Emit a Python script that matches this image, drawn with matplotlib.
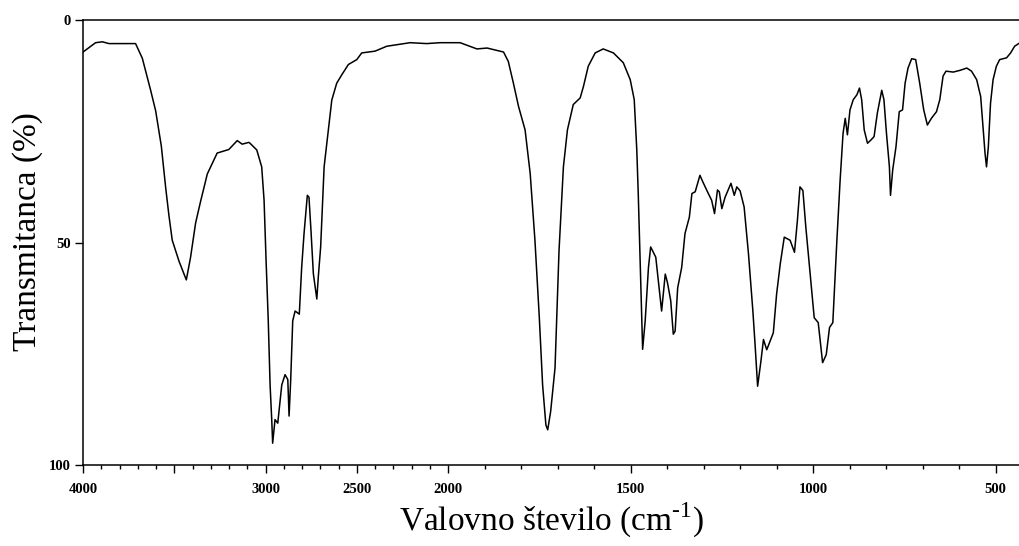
import numpy as np
import matplotlib.pyplot as plt
from matplotlib.ticker import FixedLocator, FixedFormatter

# IR spectrum: wavenumber (cm-1) and transmittance (%)
wavenumber = [
    4000, 3931, 3894, 3858, 3712, 3675, 3630, 3602, 3571, 3547, 3529, 3511,
    3474, 3434, 3411, 3383, 3356, 3319, 3265, 3201, 3155, 3128, 3091, 3085,
    3048, 3021, 3008, 2997, 2985, 2975, 2966, 2961, 2948, 2933, 2911, 2893,
    2878, 2871, 2862, 2851, 2838, 2815, 2802, 2789, 2771, 2762, 2751, 2738,
    2719, 2711, 2698, 2679, 2656, 2637, 2610, 2582, 2546, 2500, 2473, 2400,
    2336, 2208, 2117, 2044, 1967, 1921, 1893, 1858, 1848, 1835, 1821, 1807,
    1789, 1775, 1762, 1750, 1741, 1732, 1727, 1719, 1707, 1696, 1684, 1673,
    1657, 1638, 1629, 1616, 1597, 1575, 1547, 1520, 1501, 1490, 1483, 1479,
    1472, 1467, 1460, 1451, 1445, 1431, 1415, 1405, 1399, 1390, 1383, 1378,
    1371, 1360, 1351, 1339, 1332, 1323, 1310, 1302, 1287, 1278, 1270, 1262,
    1257, 1250, 1241, 1225, 1216, 1209, 1200, 1189, 1177, 1165, 1159, 1152,
    1143, 1136, 1127, 1109, 1100, 1090, 1079, 1063, 1051, 1043, 1036, 1028,
    1020, 1008, 997, 986, 974, 964, 955, 946, 935, 926, 918, 912, 906, 899,
    890, 880, 873, 867, 860, 851, 842, 833, 824, 812, 806, 799, 791, 788,
    782, 773, 764, 755, 748, 740, 730, 719, 708, 697, 687, 676, 662, 653,
    644, 636, 616, 597, 579, 566, 552, 541, 534, 529, 525, 520, 514, 507,
    498, 489, 470, 459, 448, 437,
]
transmittance = [
    7.2, 5.1, 4.9, 5.3, 5.3, 8.6, 15.7, 20.4, 28.3, 37.7, 44.0, 49.5,
    54.2, 58.4, 53.4, 45.6, 40.8, 34.6, 29.9, 29.1, 27.1, 27.9, 27.5, 27.7,
    29.2, 33.0, 40.5, 54.0, 67.6, 82.0, 89.8, 95.1, 89.8, 90.6, 82.0, 79.7,
    80.8, 89.0, 80.8, 67.6, 65.4, 66.1, 55.6, 48.0, 39.4, 39.8, 47.3, 57.0,
    62.7, 57.8, 51.0, 33.0, 24.7, 18.0, 14.2, 12.3, 10.0, 8.9, 7.4, 7.0,
    5.9, 5.1, 5.3, 5.1, 5.1, 6.5, 6.3, 7.0, 7.2, 9.3, 14.2, 19.4,
    24.7, 34.5, 49.5, 66.9, 82.0, 91.0, 92.1, 88.0, 78.2, 51.8, 33.0, 24.7,
    19.0, 17.5, 14.9, 10.4, 7.4, 6.5, 7.4, 9.6, 13.4, 17.9, 29.2, 39.0,
    59.3, 74.0, 67.6, 55.6, 51.0, 53.3, 65.4, 57.1, 59.0, 63.1, 70.6, 69.9,
    60.2, 55.6, 48.0, 44.3, 39.0, 38.6, 34.9, 36.4, 39.0, 40.5, 43.5, 38.2,
    38.6, 42.4, 39.8, 36.7, 39.4, 37.5, 38.4, 42.0, 52.6, 65.4, 72.9, 82.3,
    76.7, 71.8, 74.1, 70.3, 61.6, 54.8, 48.8, 49.5, 52.2, 45.0, 37.5, 38.3,
    46.5, 57.1, 66.9, 68.0, 77.0, 75.2, 69.1, 68.0, 49.7, 36.0, 25.5, 22.1,
    25.8, 20.2, 17.9, 16.8, 15.3, 17.9, 24.7, 27.7, 27.0, 26.2, 20.9, 15.8,
    17.9, 25.5, 33.0, 39.4, 33.7, 28.5, 20.6, 20.2, 14.2, 10.8, 8.7, 8.9,
    14.2, 20.2, 23.6, 22.1, 20.6, 17.9, 12.6, 11.5, 11.7, 11.3, 10.8, 11.5,
    13.4, 17.2, 24.7, 30.0, 33.0, 28.5, 18.7, 13.4, 10.4, 8.9, 8.5, 7.4,
    5.9, 5.3,
]

major_ticks = [4000, 3500, 3000, 2500, 2000, 1500, 1000, 500]
major_labels = ['4000', '', '3000', '2500', '2000', '1500', '1000', '500']
minor_ticks = [w for w in range(3900, 400, -100) if w % 500 != 0]
y_ticks = [0, 50, 100]


# spectrometer axis: 4000-2000 cm-1 drawn at half the scale of 2000-400
def fwd(w):
    w = np.asarray(w, dtype=float)
    return np.where(w > 2000, 2000 + (w - 2000) / 2, w)


def inv(u):
    u = np.asarray(u, dtype=float)
    return np.where(u > 2000, 2000 + (u - 2000) * 2, u)


plt.rcParams['mathtext.fontset'] = 'custom'
plt.rcParams['mathtext.rm'] = 'Liberation Serif'

fig = plt.figure(figsize=(10.19, 5.46), dpi=100)
ax = fig.add_axes([83 / 1019, 81 / 546, 936 / 1019, 445 / 546])

ax.plot(wavenumber, transmittance, color='black', linewidth=1.1)

ax.set_xscale('function', functions=(fwd, inv))
ax.set_xlim(4000, 436)
ax.set_ylim(100, 0)

ax.xaxis.set_major_locator(FixedLocator(major_ticks))
ax.xaxis.set_major_formatter(FixedFormatter(major_labels))
ax.xaxis.set_minor_locator(FixedLocator(minor_ticks))
ax.set_yticks(y_ticks)
ax.yaxis.set_minor_locator(FixedLocator([]))

ax.tick_params(axis='both', which='major', direction='out', length=6,
               width=1, pad=3)
ax.tick_params(axis='x', which='minor', direction='out', length=3, width=1)
for lbl in ax.get_xticklabels() + ax.get_yticklabels():
    lbl.set_fontfamily('Liberation Serif')
    lbl.set_fontweight('bold')
    lbl.set_fontsize(10.5)
ax.tick_params(axis='x', pad=7)

ax.spines['right'].set_visible(False)
for s in ['left', 'top', 'bottom']:
    ax.spines[s].set_linewidth(1.1)

ax.set_ylabel('Transmitanca (%)', fontfamily='Liberation Serif',
              fontsize=24, va='center')
ax.yaxis.set_label_coords(-0.059, 0.525)
ax.set_xlabel(r'Valovno število (cm$^{\mathrm{\text{-}1}}$)',
              fontfamily='Liberation Serif', fontsize=24, va='center')
ax.xaxis.set_label_coords(0.5, -0.124)

fig.savefig('out.png', dpi=100)
